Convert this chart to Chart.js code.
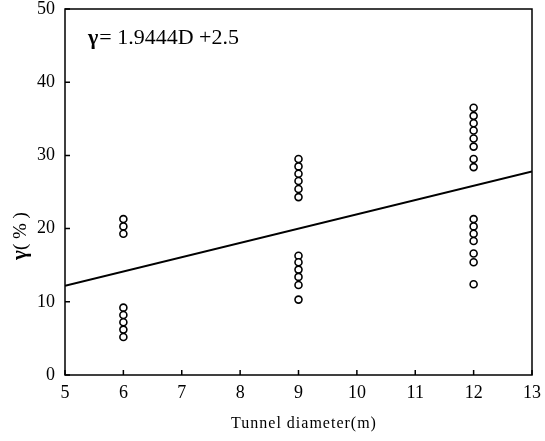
<!DOCTYPE html>
<html>
<head>
<meta charset="utf-8">
<script src="https://cdn.jsdelivr.net/npm/chart.js@4.4.1/dist/chart.umd.min.js"></script>
<style>
  html, body { margin: 0; padding: 0; background: #fff; }
  canvas { display: block; }
</style>
</head>
<body>
<canvas id="chart" width="545" height="441"></canvas>
<script>
// data
const diameters = [6, 9, 12];
const ratioAt6 = [21.3, 20.3, 19.3, 9.2, 8.2, 7.2, 6.2, 5.2];
const ratioAt9 = [29.5, 28.5, 27.5, 26.5, 25.4, 24.3, 16.3, 15.4, 14.4, 13.4, 12.3, 10.3];
const ratioAt12 = [36.5, 35.4, 34.4, 33.4, 32.3, 31.2, 29.5, 28.4, 21.3, 20.3, 19.3, 18.3, 16.6, 15.4, 12.4];
const fitX = [5, 13];
const fitY = [12.2, 27.8];
const xTicks = [5, 6, 7, 8, 9, 10, 11, 12, 13];
const yTicks = [0, 10, 20, 30, 40, 50];

const serif = "'Liberation Serif', 'DejaVu Serif', serif";

// build scatter points per diameter
let points = [];
[ratioAt6, ratioAt9, ratioAt12].forEach((vals, i) => {
    vals.forEach(v => points.push({ x: diameters[i], y: v }));
});
let fitLine = fitX.map((x, i) => ({ x: x, y: fitY[i] }));

// frame, inward ticks and the extra text
const framePlugin = {
    id: "frame",
    afterDraw(chart) {
        const ctx = chart.ctx;
        const a = chart.chartArea;
        const xs = chart.scales.x, ys = chart.scales.y;
        ctx.save();
        ctx.strokeStyle = "#000";
        ctx.lineWidth = 1.5;
        ctx.strokeRect(a.left, a.top, a.right - a.left, a.bottom - a.top);

        ctx.beginPath();
        xTicks.forEach(t => {
            let px = xs.getPixelForValue(t);
            ctx.moveTo(px, a.bottom);
            ctx.lineTo(px, a.bottom - 5);
        });
        yTicks.forEach(t => {
            let py = ys.getPixelForValue(t);
            ctx.moveTo(a.left, py);
            ctx.lineTo(a.left + 5, py);
        });
        ctx.stroke();

        ctx.fillStyle = "#000";
        ctx.textBaseline = "middle";

        // equation
        ctx.textAlign = "left";
        ctx.font = "bold 22px " + serif;
        ctx.fillText("γ", 88, 38);
        let gw = ctx.measureText("γ").width;
        ctx.font = "22px " + serif;
        ctx.fillText("= 1.9444D +2.5", 88 + gw + 1, 38);

        // x title
        ctx.textAlign = "center";
        ctx.font = "16px " + serif;
        ctx.letterSpacing = "1px";
        ctx.fillText("Tunnel diameter(m)", 304, 424);
        ctx.letterSpacing = "0px";

        // y title
        ctx.translate(21, 236);
        ctx.rotate(-Math.PI / 2);
        ctx.font = "bold 21px " + serif;
        let g = ctx.measureText("γ").width;
        ctx.font = "19px " + serif;
        let rest = ctx.measureText("( % )").width;
        let start = -(g + rest) / 2;
        ctx.textAlign = "left";
        ctx.font = "bold 21px " + serif;
        ctx.fillText("γ", start, 0);
        ctx.font = "19px " + serif;
        ctx.fillText("( % )", start + g, 0);
        ctx.restore();
    }
};

new Chart(document.getElementById("chart").getContext("2d"), {
    type: "scatter",
    data: {
        datasets: [
            {
                data: points,
                pointStyle: "circle",
                pointRadius: 3.5,
                pointBorderWidth: 1.6,
                pointBackgroundColor: "#fff",
                pointBorderColor: "#000"
            },
            {
                data: fitLine,
                showLine: true,
                borderColor: "#000",
                borderWidth: 2,
                pointRadius: 0
            }
        ]
    },
    options: {
        responsive: false,
        animation: false,
        devicePixelRatio: 1,
        layout: { padding: { top: 9, right: 13, left: 0, bottom: 0 } },
        plugins: {
            legend: { display: false },
            tooltip: { enabled: false }
        },
        scales: {
            x: {
                type: "linear",
                min: 5,
                max: 13,
                afterFit: s => { s.height = 66; s.paddingLeft = 0; s.paddingRight = 0; },
                afterBuildTicks: s => { s.ticks = xTicks.map(v => ({ value: v })); },
                grid: { display: false, drawTicks: false },
                border: { display: false },
                ticks: { color: "#000", font: { family: serif, size: 18 }, padding: 7, maxRotation: 0 }
            },
            y: {
                min: 0,
                max: 50,
                afterFit: s => { s.width = 65; s.paddingTop = 0; s.paddingBottom = 0; },
                afterBuildTicks: s => { s.ticks = yTicks.map(v => ({ value: v })); },
                grid: { display: false, drawTicks: false },
                border: { display: false },
                ticks: { color: "#000", font: { family: serif, size: 18 }, padding: 10 }
            }
        }
    },
    plugins: [framePlugin]
});
</script>
</body>
</html>
